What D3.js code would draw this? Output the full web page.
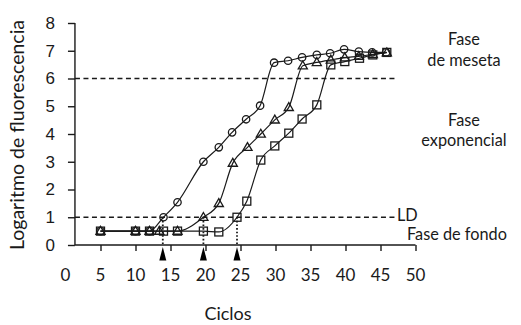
<!DOCTYPE html>
<html>
<head>
<meta charset="utf-8">
<script src="https://cdn.jsdelivr.net/npm/d3@7"></script>
<style>
  body { margin: 0; background: #fff; }
  svg { font-family: "Lato", "DejaVu Sans", sans-serif; }
</style>
</head>
<body>
<svg id="chart" width="521" height="325"></svg>
<script>
// data
var circleCycles = [5, 10, 12, 14, 16, 19.7, 21.9, 23.8, 25.8, 27.8, 29.8, 31.8, 33.8, 35.9, 37.8, 39.8, 41.9, 43.8, 45.8];
var circleValues = [0.5, 0.5, 0.5, 1.0, 1.54, 3.0, 3.52, 4.06, 4.53, 5.02, 6.57, 6.64, 6.76, 6.85, 6.91, 7.05, 6.97, 6.94, 6.94];

var triangleCycles = [5, 10, 12, 13.4, 16, 19.7, 21.9, 23.9, 26.0, 27.9, 29.9, 31.9, 33.9, 35.9, 37.9, 39.9, 41.9, 43.9, 45.9];
var triangleValues = [0.5, 0.5, 0.5, 0.5, 0.5, 1.0, 1.5, 2.95, 3.52, 4.0, 4.51, 4.96, 6.46, 6.58, 6.67, 6.75, 6.8, 6.87, 6.93];

var squareCycles = [5, 10, 12, 14, 16, 19.7, 21.9, 24.5, 25.9, 27.9, 29.9, 31.9, 33.8, 35.9, 37.9, 39.9, 42, 43.9, 45.9];
var squareValues = [0.5, 0.5, 0.5, 0.5, 0.5, 0.5, 0.47, 1.0, 1.58, 3.06, 3.57, 4.03, 4.54, 5.05, 6.49, 6.61, 6.73, 6.85, 6.94];

var ctCycles = [13.9, 19.7, 24.5];
var ldLevel = 1;
var plateauLevel = 6;

var xTicks = [0, 5, 10, 15, 20, 25, 30, 35, 40, 45, 50];
var yTicks = [0, 1, 2, 3, 4, 5, 6, 7, 8];

var svg = d3.select('#chart');
var ink = '#1a1a1a';

var x = d3.scaleLinear().domain([0, 50]).range([65.5, 415.5]);
var y = d3.scaleLinear().domain([0, 8]).range([245, 23]);
var axisX = 1.35; // y axis sits a little right of cycle 0

// x axis
var gx = svg.append('g')
  .attr('transform', 'translate(0,' + y(0) + ')')
  .call(d3.axisBottom(x).tickValues(xTicks.filter(function(d) { return d > 0; })).tickSize(6).tickSizeOuter(0).tickFormat(''));
gx.select('.domain').attr('d', 'M' + x(axisX) + ',0H' + x(50)).attr('stroke', ink).attr('stroke-width', 1.4);
gx.selectAll('.tick line').attr('stroke', ink).attr('stroke-width', 1.4);

svg.append('g').selectAll('text')
  .data(xTicks)
  .enter().append('text')
  .attr('x', function(d) { return x(d); })
  .attr('y', 281)
  .attr('text-anchor', 'middle')
  .attr('font-size', 17)
  .attr('fill', ink)
  .text(function(d) { return d; });

// y axis
var gy = svg.append('g')
  .attr('transform', 'translate(' + x(axisX) + ',0)')
  .call(d3.axisLeft(y).tickValues(yTicks).tickSize(7).tickSizeOuter(0).tickPadding(13));
gy.select('.domain').attr('d', 'M0,' + y(8) + 'V' + y(0)).attr('stroke', ink).attr('stroke-width', 1.4);
gy.selectAll('.tick line').attr('stroke', ink).attr('stroke-width', 1.4);
gy.selectAll('.tick text').attr('font-size', 17).attr('fill', ink).attr('font-family', null);

// dashed reference lines
svg.append('line')
  .attr('x1', x(axisX)).attr('x2', 395)
  .attr('y1', y(plateauLevel)).attr('y2', y(plateauLevel))
  .attr('stroke', ink).attr('stroke-width', 1.3).attr('stroke-dasharray', '5,3.5');
svg.append('line')
  .attr('x1', x(axisX)).attr('x2', 395)
  .attr('y1', y(ldLevel)).attr('y2', y(ldLevel))
  .attr('stroke', ink).attr('stroke-width', 1.3).attr('stroke-dasharray', '5,3.5');

// dotted drop lines and arrows at the threshold cycles
svg.selectAll('.drop')
  .data(ctCycles)
  .enter().append('line')
  .attr('class', 'drop')
  .attr('x1', function(d) { return x(d); }).attr('x2', function(d) { return x(d); })
  .attr('y1', y(ldLevel)).attr('y2', y(0))
  .attr('stroke', ink).attr('stroke-width', 1.8).attr('stroke-dasharray', '1.6,2');
svg.selectAll('.arrow')
  .data(ctCycles)
  .enter().append('path')
  .attr('class', 'arrow')
  .attr('d', function(d) {
    var cx = x(d);
    return 'M' + cx + ',' + 247 + 'L' + (cx + 3.5) + ',260.5L' + (cx - 3.5) + ',260.5Z';
  })
  .attr('fill', '#000');

// series
function pairs(cs, vs) {
  return cs.map(function(c, i) { return [c, vs[i]]; });
}
var circles = pairs(circleCycles, circleValues);
var triangles = pairs(triangleCycles, triangleValues);
var squares = pairs(squareCycles, squareValues);

var line = d3.line()
  .x(function(d) { return x(d[0]); })
  .y(function(d) { return y(d[1]); })
  .curve(d3.curveMonotoneX);

[squares, triangles, circles].forEach(function(s) {
  svg.append('path')
    .datum(s)
    .attr('d', line)
    .attr('fill', 'none')
    .attr('stroke', ink)
    .attr('stroke-width', 1.2);
});

svg.selectAll('.sq')
  .data(squares)
  .enter().append('rect')
  .attr('class', 'sq')
  .attr('x', function(d) { return x(d[0]) - 4; })
  .attr('y', function(d) { return y(d[1]) - 4; })
  .attr('width', 8).attr('height', 8)
  .attr('fill', 'none').attr('stroke', ink).attr('stroke-width', 1.3);

svg.selectAll('.tri')
  .data(triangles)
  .enter().append('path')
  .attr('class', 'tri')
  .attr('d', d3.symbol().type(d3.symbolTriangle).size(36))
  .attr('transform', function(d) { return 'translate(' + x(d[0]) + ',' + (y(d[1]) + 0.5) + ')'; })
  .attr('fill', 'none').attr('stroke', ink).attr('stroke-width', 1.3);

svg.selectAll('.ci')
  .data(circles)
  .enter().append('circle')
  .attr('class', 'ci')
  .attr('cx', function(d) { return x(d[0]); })
  .attr('cy', function(d) { return y(d[1]); })
  .attr('r', 3.7)
  .attr('fill', 'none').attr('stroke', ink).attr('stroke-width', 1.3);

// labels
svg.append('text')
  .attr('transform', 'translate(24,135) rotate(-90)')
  .attr('text-anchor', 'middle')
  .attr('font-size', 19.5)
  .attr('fill', ink)
  .text('Logaritmo de fluorescencia');

svg.append('text')
  .attr('x', 228).attr('y', 320)
  .attr('text-anchor', 'middle')
  .attr('font-size', 18)
  .attr('fill', ink)
  .text('Ciclos');

var notes = [
  { t: 'Fase', x: 464, y: 45, a: 'middle' },
  { t: 'de meseta', x: 464, y: 66, a: 'middle' },
  { t: 'Fase', x: 464, y: 126, a: 'middle' },
  { t: 'exponencial', x: 464, y: 146, a: 'middle' },
  { t: 'LD', x: 397, y: 221, a: 'start' },
  { t: 'Fase de fondo', x: 407, y: 240, a: 'start' }
];
svg.selectAll('.note')
  .data(notes)
  .enter().append('text')
  .attr('class', 'note')
  .attr('x', function(d) { return d.x; })
  .attr('y', function(d) { return d.y; })
  .attr('text-anchor', function(d) { return d.a; })
  .attr('font-size', 16.3)
  .attr('fill', ink)
  .text(function(d) { return d.t; });
</script>
</body>
</html>
